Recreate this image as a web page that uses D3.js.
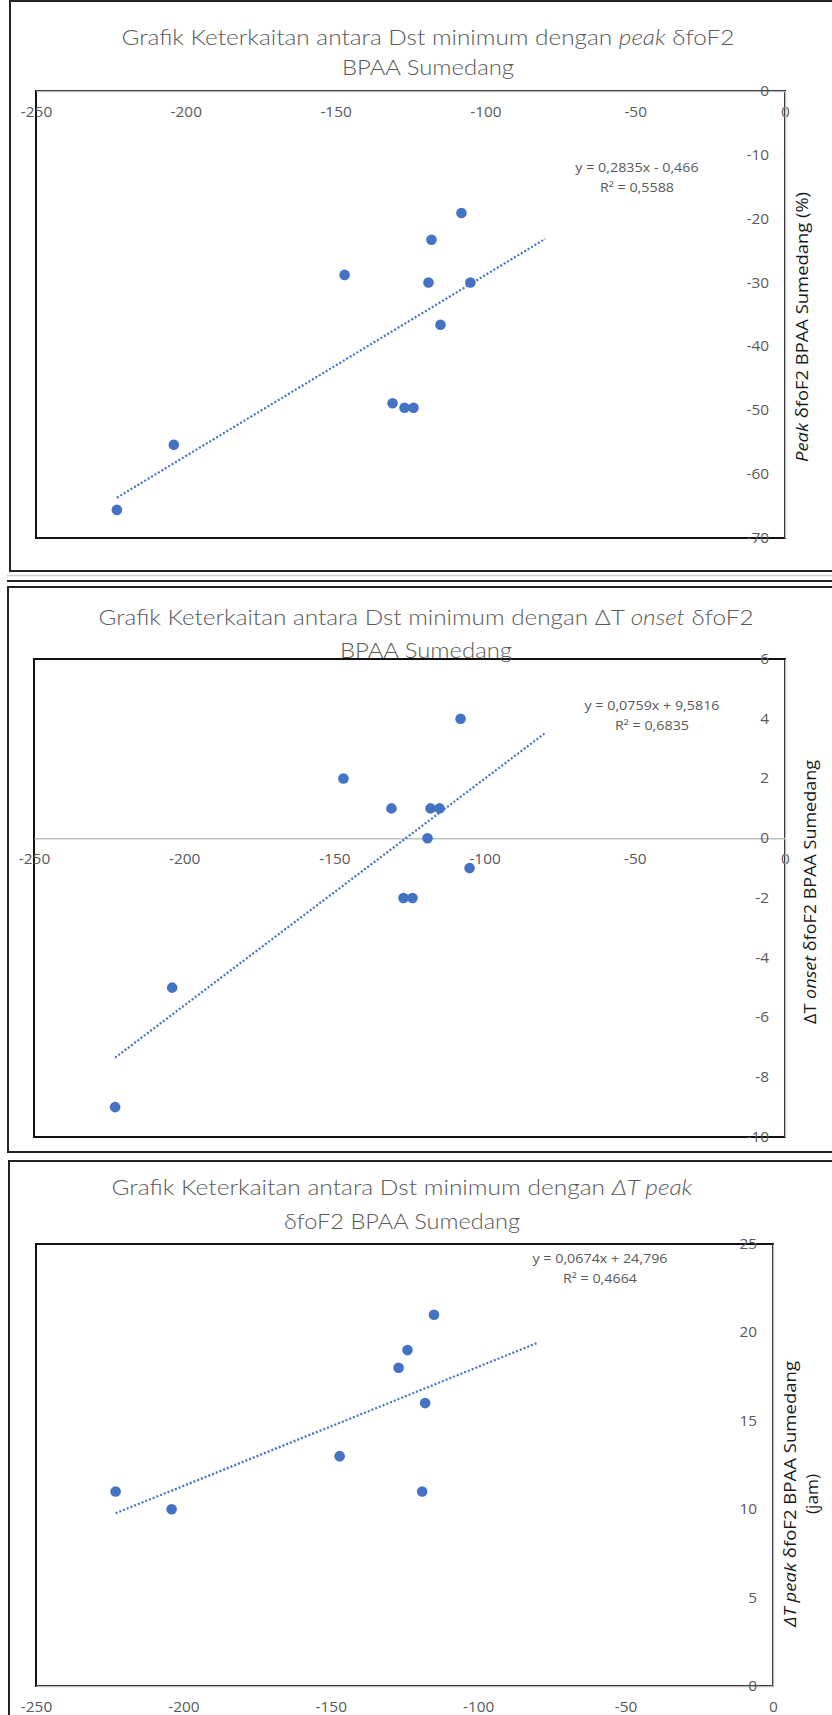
<!DOCTYPE html>
<html>
<head>
<meta charset="utf-8">
<script src="https://cdn.jsdelivr.net/npm/d3@7/dist/d3.min.js"></script>
<style>
  body { margin: 0; background: #fff; }
  svg { display: block; }
</style>
</head>
<body>
<figure style="margin:0"></figure>
<script>
// Dst minimum (nT) for each storm, and the ionospheric responses
const dstMin = [-223, -204, -147, -131, -127, -124, -119, -118, -115, -108, -105];
const peakFoF2 = [-65.6, -55.4, -28.8, -48.9, -49.6, -49.6, -30, -23.3, -36.6, -19.1, -30];
const onsetDT = [-9, -5, 2, 1, -2, -2, 0, 1, 1, 4, -1];
// third chart only has 8 storms
const dstMinPeak = [-223, -204, -147, -127, -124, -119, -118, -115];
const peakDT = [11, 10, 13, 18, 19, 11, 16, 21];

const xTicks = [-250, -200, -150, -100, -50, 0];
const peakTicks = [0, -10, -20, -30, -40, -50, -60, -70];
const onsetTicks = [6, 4, 2, 0, -2, -4, -6, -8, -10];
const dtTicks = [0, 5, 10, 15, 20, 25];

// linear trendlines as printed by the spreadsheet
const trendSlope = [0.2835, 0.0759, 0.0674];
const trendIntercept = [-0.466, 9.5816, 24.796];
const trendEnd = -80;
const trendLabels = [
  ['y = 0,2835x - 0,466', 'R² = 0,5588'],
  ['y = 0,0759x + 9,5816', 'R² = 0,6835'],
  ['y = 0,0674x + 24,796', 'R² = 0,4664']
];

const blue = '#4472C4';
const grey = '#595959';

(() => {
  const width = 832, height = 1715;
  const svg = d3.select('figure').append('svg')
    .attr('width', width)
    .attr('height', height);

  // the screenshot is a bit wider than the fonts we have, stretch text to fit
  const stretch = (sel, k) => sel.each(function() {
    const w = this.getComputedTextLength();
    d3.select(this).attr('textLength', w * k).attr('lengthAdjust', 'spacingAndGlyphs');
  });
  const fitTo = (sel, w) => sel.attr('textLength', w).attr('lengthAdjust', 'spacingAndGlyphs');

  // frames around each chart (they come from a screenshot collage)
  svg.append('rect').attr('x', 10).attr('y', 1).attr('width', 840).attr('height', 570)
    .attr('fill', 'none').attr('stroke', '#222').attr('stroke-width', 2);
  svg.append('line').attr('x1', 7).attr('x2', 840).attr('y1', 575.5).attr('y2', 575.5)
    .attr('stroke', '#d0d0d0').attr('stroke-width', 1.5);
  svg.append('line').attr('x1', 7).attr('x2', 840).attr('y1', 581).attr('y2', 581)
    .attr('stroke', '#222').attr('stroke-width', 2);
  svg.append('rect').attr('x', 8).attr('y', 587).attr('width', 840).attr('height', 565)
    .attr('fill', 'none').attr('stroke', '#222').attr('stroke-width', 2);
  svg.append('rect').attr('x', 9).attr('y', 1161).attr('width', 840).attr('height', 600)
    .attr('fill', 'none').attr('stroke', '#222').attr('stroke-width', 2);

  const charts = [
    {
      plot: {left: 36, top: 91, right: 785, bottom: 538},
      xs: dstMin, ys: peakFoF2, yDomain: [-70, 0], yTicks: peakTicks,
      title: [[['Grafik Keterkaitan antara Dst minimum dengan ', false], ['peak', true], [' δfoF2', false]],
              [['BPAA Sumedang', false]]],
      titleX: 428, titleY: [44.5, 74.5], titleW: [613, 172],
      yTitle: [[['Peak', true], [' δfoF2 BPAA Sumedang (%)', false]]],
      yTitleX: [802], yTitleY: 327, yTitleW: [270],
      eqX: 637, eqY: [172, 192]
    },
    {
      plot: {left: 34, top: 659, right: 785, bottom: 1137},
      xs: dstMin, ys: onsetDT, yDomain: [-10, 6], yTicks: onsetTicks,
      title: [[['Grafik Keterkaitan antara Dst minimum dengan ΔT ', false], ['onset', true], [' δfoF2', false]],
              [['BPAA Sumedang', false]]],
      titleX: 426, titleY: [625, 657.5], titleW: [655, 172],
      yTitle: [[['ΔT ', false], ['onset', true], [' δfoF2 BPAA Sumedang', false]]],
      yTitleX: [810], yTitleY: 892, yTitleW: [264],
      eqX: 652, eqY: [710, 730]
    },
    {
      plot: {left: 36, top: 1244, right: 773, bottom: 1686},
      xs: dstMinPeak, ys: peakDT, yDomain: [0, 25], yTicks: dtTicks,
      title: [[['Grafik Keterkaitan antara Dst minimum dengan ', false], ['ΔT peak', true]],
              [['δfoF2 BPAA Sumedang', false]]],
      titleX: 402, titleY: [1195, 1228.5], titleW: [581, 236],
      yTitle: [[['ΔT peak', true], [' δfoF2 BPAA Sumedang', false]], [['(jam)', false]]],
      yTitleX: [790, 812], yTitleY: 1494, yTitleW: [266, 40],
      eqX: 600, eqY: [1263, 1283]
    }
  ];

  charts.forEach((c, i) => {
    const p = c.plot;
    const x = d3.scaleLinear().domain([-250, 0]).range([p.left, p.right]);
    const y = d3.scaleLinear().domain(c.yDomain).range([p.bottom, p.top]);
    const g = svg.append('g');

    // plot area border
    g.append('rect')
      .attr('x', p.left).attr('y', p.top)
      .attr('width', p.right - p.left).attr('height', p.bottom - p.top)
      .attr('fill', 'none').attr('stroke', '#111').attr('stroke-width', 2);

    // x axis sits on y = 0, y axis on x = 0
    const xAxis = d3.axisBottom(x).tickValues(xTicks).tickSize(0).tickPadding(16)
      .tickFormat(d => String(d));
    const yAxis = d3.axisLeft(y).tickValues(c.yTicks).tickSize(0).tickPadding(16)
      .tickFormat(d => String(d));

    const xg = g.append('g').attr('transform', `translate(0, ${y(0)})`).call(xAxis);
    const yg = g.append('g').attr('transform', `translate(${x(0)}, 0)`).call(yAxis);
    [xg, yg].forEach(a => {
      a.select('.domain').attr('stroke', '#bfbfbf').attr('stroke-width', 1.5);
      a.selectAll('text')
        .attr('fill', grey)
        .style('font-family', '"Open Sans", sans-serif')
        .style('font-size', '14px')
        .call(stretch, 1.1);
    });

    // trendline
    const m = trendSlope[i], b = trendIntercept[i];
    const x0 = d3.min(c.xs);
    g.append('line')
      .attr('x1', x(x0)).attr('y1', y(m * x0 + b))
      .attr('x2', x(trendEnd)).attr('y2', y(m * trendEnd + b))
      .attr('stroke', blue).attr('stroke-width', 2.2)
      .attr('stroke-dasharray', '2,2');

    // points
    g.selectAll('circle.pt')
      .data(d3.zip(c.xs, c.ys))
      .join('circle')
      .attr('class', 'pt')
      .attr('cx', d => x(d[0]))
      .attr('cy', d => y(d[1]))
      .attr('r', 5.3)
      .attr('fill', blue);

    // equation label
    g.selectAll('text.eq')
      .data(trendLabels[i])
      .join('text')
      .attr('class', 'eq')
      .attr('x', c.eqX)
      .attr('y', (d, k) => c.eqY[k])
      .attr('text-anchor', 'middle')
      .attr('fill', grey)
      .style('font-family', '"Open Sans", sans-serif')
      .style('font-size', '13px')
      .text(d => d)
      .call(stretch, 1.1);

    // chart title
    c.title.forEach((line, k) => {
      const t = g.append('text')
        .attr('x', c.titleX).attr('y', c.titleY[k])
        .attr('text-anchor', 'middle')
        .attr('fill', grey)
        .style('font-family', 'Lato, sans-serif')
        .style('font-weight', 300)
        .style('font-size', '21.5px');
      line.forEach(([s, it]) => t.append('tspan').style('font-style', it ? 'italic' : 'normal').text(s));
      fitTo(t, c.titleW[k]);
    });

    // vertical axis title
    c.yTitle.forEach((line, k) => {
      const t = g.append('text')
        .attr('transform', `translate(${c.yTitleX[k]}, ${c.yTitleY}) rotate(-90)`)
        .attr('text-anchor', 'middle')
        .attr('dominant-baseline', 'central')
        .attr('fill', '#1a1a1a')
        .style('font-family', '"Open Sans", sans-serif')
        .style('font-size', '16px');
      line.forEach(([s, it]) => t.append('tspan').style('font-style', it ? 'italic' : 'normal').text(s));
      fitTo(t, c.yTitleW[k]);
    });
  });
})();
</script>
</body>
</html>
